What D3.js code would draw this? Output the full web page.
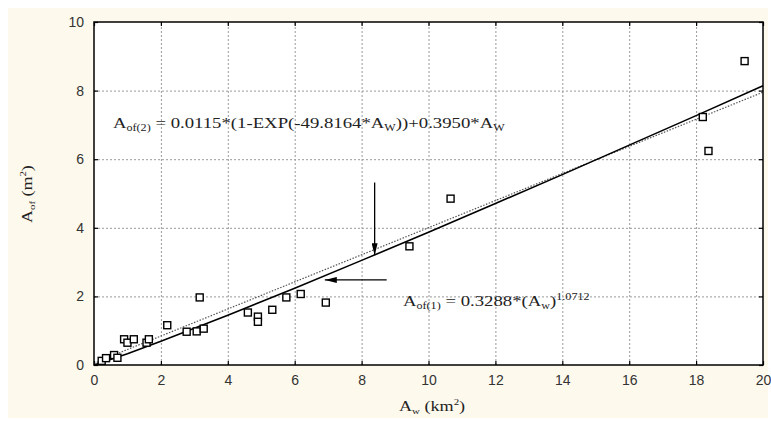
<html>
  <head>
    <title>Aof vs Aw</title>
    <style>
      body { margin: 0; background: #fff; }
      .grid line { stroke: #9a9a9a; stroke-dasharray: 2,2; stroke-width: 1; }
      .tick text { font-family: "Liberation Sans", Arial, sans-serif; font-size: 14px; fill: #333; }
      .ann { font-family: "Liberation Serif", "Times New Roman", serif; fill: #222; }
    </style>
  </head>
  <body>
    <script type="text/javascript" src="https://cdn.jsdelivr.net/npm/d3@7/dist/d3.min.js"></script>
    <script type="text/javascript">
    var obsAw  = [0.23, 0.36, 0.6, 0.7, 0.9, 1.0, 1.19, 1.57, 1.64, 2.19, 2.77, 3.07, 3.16, 3.28,
                  4.6, 4.9, 4.9, 5.33, 5.75, 6.18, 6.93, 9.43, 10.66, 18.2, 18.37, 19.45];
    var obsAof = [0.12, 0.2, 0.29, 0.21, 0.75, 0.65, 0.75, 0.65, 0.75, 1.16, 0.97, 0.98, 1.97, 1.06,
                  1.53, 1.41, 1.26, 1.61, 1.97, 2.07, 1.82, 3.46, 4.85, 7.23, 6.24, 8.86];

    // fitted curves
    var curveAw   = [0, 1, 2, 4, 6, 8, 10, 12, 14, 16, 18, 20];
    var fit1Aof   = [0, 0.33, 0.69, 1.45, 2.24, 3.05, 3.87, 4.71, 5.55, 6.41, 7.27, 8.14];  // solid
    var fit2Aof   = [0, 0.41, 0.80, 1.59, 2.38, 3.17, 3.96, 4.75, 5.54, 6.33, 7.12, 7.91];  // dotted

    var xTicks = [0, 2, 4, 6, 8, 10, 12, 14, 16, 18, 20];
    var yTicks = [0, 2, 4, 6, 8, 10];

    var W = 771, H = 421,
        margin = { top: 22, right: 8, bottom: 56, left: 94 },
        width = W - margin.left - margin.right,
        height = H - margin.top - margin.bottom;

    var svg = d3.select('body').append('svg')
        .attr('width', W).attr('height', H);

    svg.append('rect')
      .attr('x', 8).attr('y', 8).attr('width', 760).attr('height', 410)
      .attr('fill', '#fdf9ec');

    var g = svg.append('g')
      .attr('transform', "translate(" + margin.left + "," + margin.top + ")");

    var x = d3.scaleLinear().domain([0, 20]).range([0, width]);
    var y = d3.scaleLinear().domain([0, 10]).range([height, 0]);

    g.append('rect').attr('width', width).attr('height', height).attr('fill', '#fff');

    // grid
    g.append('g').attr('class', 'grid')
      .attr('transform', "translate(0," + height + ")")
      .call(d3.axisBottom(x).tickValues(xTicks.slice(1, -1)).tickSize(-height).tickFormat(''))
      .select('.domain').remove();
    g.append('g').attr('class', 'grid')
      .call(d3.axisLeft(y).tickValues(yTicks.slice(1, -1)).tickSize(-width).tickFormat(''))
      .select('.domain').remove();

    // axes, ticks pointing inward on all four sides
    g.append('g').attr('class', 'axis')
      .attr('transform', "translate(0," + height + ")")
      .call(d3.axisBottom(x).tickValues(xTicks).tickSizeInner(-4).tickSizeOuter(0).tickPadding(10));
    g.append('g').attr('class', 'axis')
      .call(d3.axisLeft(y).tickValues(yTicks).tickSizeInner(-4).tickSizeOuter(0).tickPadding(10));
    g.append('g').attr('class', 'axis')
      .call(d3.axisTop(x).tickValues(xTicks).tickSizeInner(-4).tickSizeOuter(0).tickFormat(''));
    g.append('g').attr('class', 'axis')
      .attr('transform', "translate(" + width + ",0)")
      .call(d3.axisRight(y).tickValues(yTicks).tickSizeInner(-4).tickSizeOuter(0).tickFormat(''));
    g.selectAll('.axis .domain').remove();
    g.selectAll('.axis .tick line').attr('stroke', '#000').attr('stroke-width', 1.2);

    // curves
    var line = d3.line()
      .x(function(d) { return x(d[0]); })
      .y(function(d) { return y(d[1]); });

    g.append('path')
      .datum(d3.zip(curveAw, fit2Aof))
      .attr('d', line).attr('fill', 'none')
      .attr('stroke', '#555').attr('stroke-width', 1.2).attr('stroke-dasharray', '1.5,1.5')
      .attr('transform', 'translate(0,-1.5)');
    g.append('path')
      .datum(d3.zip(curveAw, fit1Aof))
      .attr('d', line).attr('fill', 'none')
      .attr('stroke', '#000').attr('stroke-width', 1.6);

    // points
    g.selectAll('rect.pt')
      .data(d3.zip(obsAw, obsAof))
      .enter().append('rect')
        .attr('class', 'pt')
        .attr('x', function(d) { return x(d[0]) - 3.5; })
        .attr('y', function(d) { return y(d[1]) - 3.5; })
        .attr('width', 7).attr('height', 7)
        .attr('fill', '#fff').attr('stroke', '#000').attr('stroke-width', 1.4);

    // frame
    g.append('rect').attr('width', width).attr('height', height)
      .attr('fill', 'none').attr('stroke', '#000').attr('stroke-width', 1.5);

    // arrows
    svg.append('defs').append('marker')
      .attr('id', 'ah').attr('viewBox', '0 0 12 6').attr('refX', 12).attr('refY', 3)
      .attr('markerWidth', 12).attr('markerHeight', 6).attr('markerUnits', 'userSpaceOnUse')
      .attr('orient', 'auto')
      .append('path').attr('d', 'M0,0 L12,3 L0,6 Z').attr('fill', '#000');

    g.append('line')
      .attr('x1', x(8.39)).attr('y1', y(5.32)).attr('x2', x(8.39)).attr('y2', y(3.2))
      .attr('stroke', '#000').attr('stroke-width', 1.3).attr('marker-end', 'url(#ah)');
    g.append('line')
      .attr('x1', x(8.75)).attr('y1', y(2.48)).attr('x2', x(6.9)).attr('y2', y(2.48))
      .attr('stroke', '#000').attr('stroke-width', 1.3).attr('marker-end', 'url(#ah)');

    // the source picture is stretched sideways, so text is widened a bit
    var sx = 1.21;

    // equations
    var t2 = svg.append('text').attr('class', 'ann')
      .attr('transform', 'translate(113,128) scale(' + sx + ',1)').attr('font-size', 15.5);
    t2.append('tspan').text('A');
    t2.append('tspan').attr('font-size', 10).attr('dy', 3).text('of(2)');
    t2.append('tspan').attr('dy', -3).text(' = 0.0115*(1-EXP(-49.8164*A');
    t2.append('tspan').attr('font-size', 10).attr('dy', 3).text('W');
    t2.append('tspan').attr('dy', -3).text('))+0.3950*A');
    t2.append('tspan').attr('font-size', 10).attr('dy', 3).text('W');

    var t1 = svg.append('text').attr('class', 'ann')
      .attr('transform', 'translate(403,306) scale(' + sx + ',1)').attr('font-size', 15.5);
    t1.append('tspan').text('A');
    t1.append('tspan').attr('font-size', 10).attr('dy', 3).text('of(1)');
    t1.append('tspan').attr('dy', -3).text(' = 0.3288*(A');
    t1.append('tspan').attr('font-size', 10).attr('dy', 3).text('w');
    t1.append('tspan').attr('dy', -3).text(')');
    t1.append('tspan').attr('font-size', 10).attr('dy', -6).text('1.0712');

    // axis titles
    var xt = svg.append('text').attr('class', 'ann')
      .attr('transform', 'translate(399,411) scale(' + sx + ',1)').attr('font-size', 15);
    xt.append('tspan').text('A');
    xt.append('tspan').attr('font-size', 9).attr('dy', 3).text('w');
    xt.append('tspan').attr('dy', -3).text(' (km');
    xt.append('tspan').attr('font-size', 9).attr('dy', -6).text('2');
    xt.append('tspan').attr('dy', 6).text(')');

    var yt = svg.append('text').attr('class', 'ann')
      .attr('transform', 'translate(32,223) rotate(-90) scale(1.2,1)').attr('font-size', 15);
    yt.append('tspan').text('A');
    yt.append('tspan').attr('font-size', 9).attr('dy', 3).text('of');
    yt.append('tspan').attr('dy', -3).text(' (m');
    yt.append('tspan').attr('font-size', 9).attr('dy', -6).text('2');
    yt.append('tspan').attr('dy', 6).text(')');
    </script>
  </body>
</html>
